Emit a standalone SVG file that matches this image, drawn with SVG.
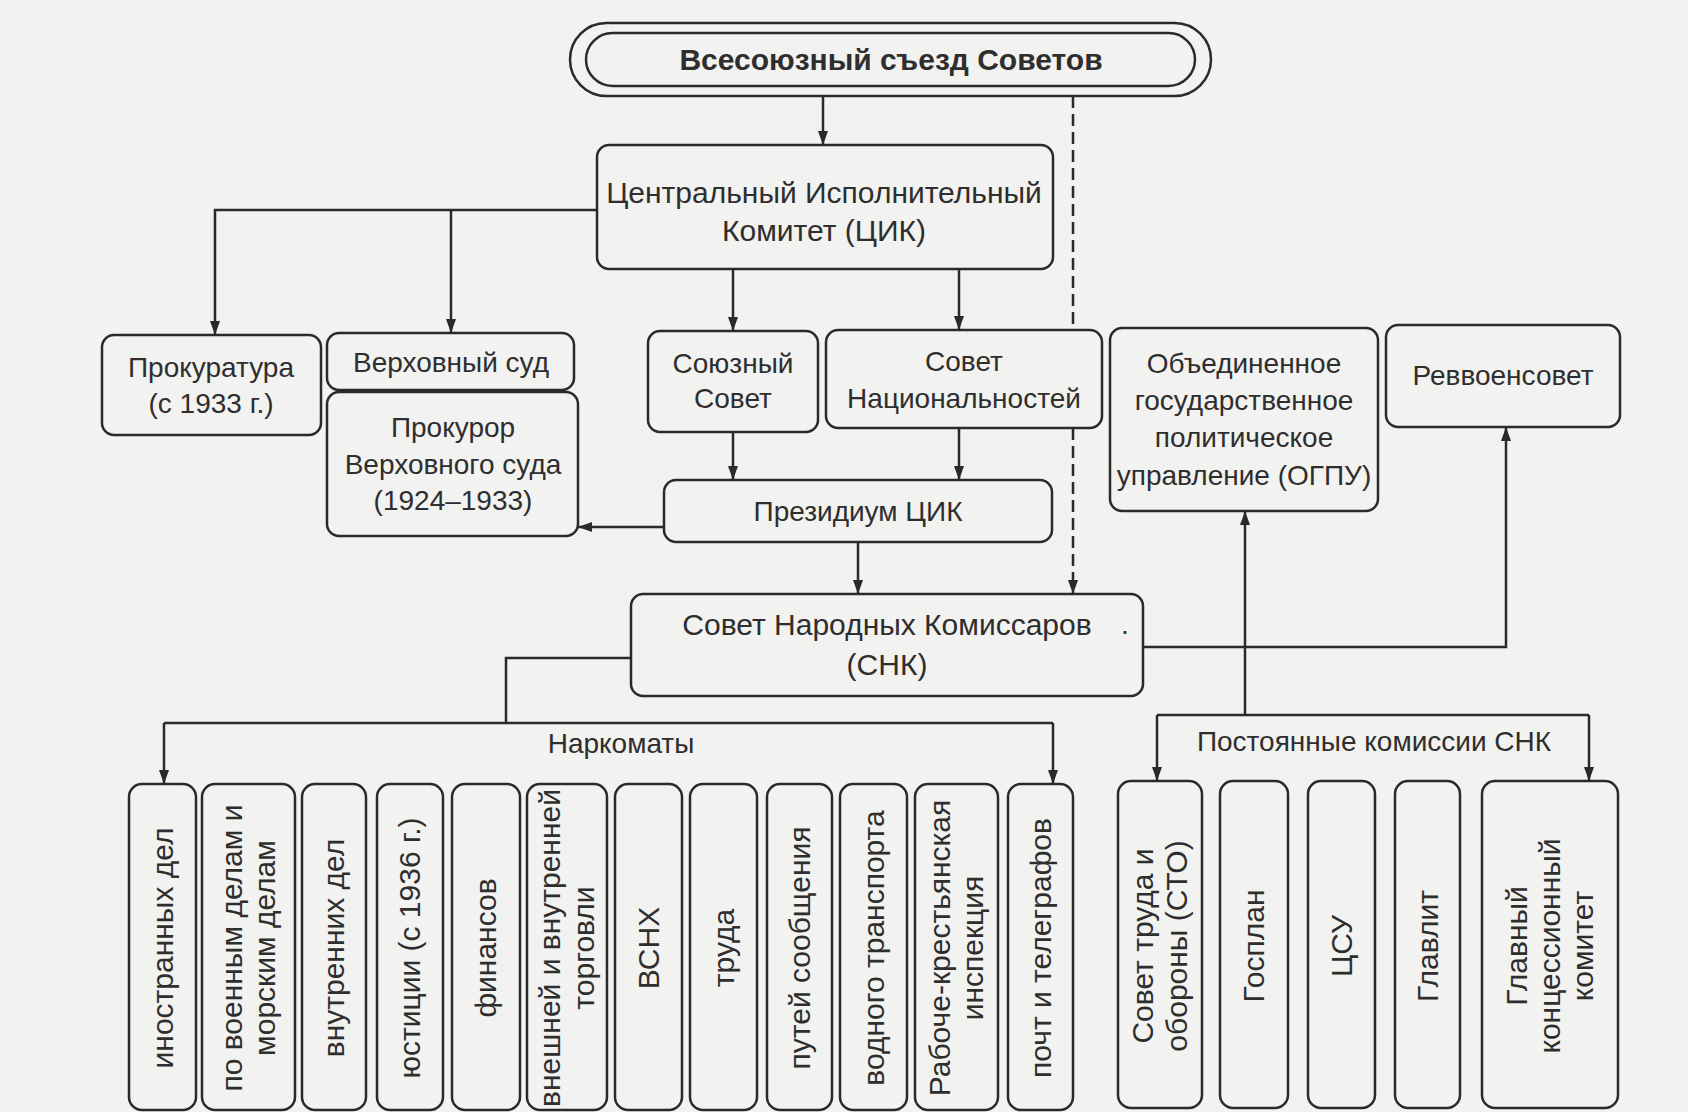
<svg xmlns="http://www.w3.org/2000/svg" width="1688" height="1112" viewBox="0 0 1688 1112">
<style>
.bg{fill:#f2f2f0}
.box{fill:none;stroke:#2a2a2a;stroke-width:2.5}
.t{font-family:"Liberation Sans",Arial,sans-serif;font-size:28px;fill:#2e2e2e;text-anchor:middle}
.t30{font-size:30px}
.b{font-weight:bold;font-size:30px}
.c{fill:none;stroke:#2a2a2a;stroke-width:2.5}
.a{marker-end:url(#ah)}
.d{stroke-dasharray:12 6}
</style>
<defs>
<marker id="ah" viewBox="0 0 14 10" markerWidth="14" markerHeight="10" refX="14" refY="5" orient="auto" markerUnits="userSpaceOnUse">
<path d="M0,0 L14,5 L0,10 z" fill="#2a2a2a"/>
</marker>
</defs>
<rect class="bg" x="0" y="0" width="1688" height="1112"/>

<g id="connectors">
<path class="c a" d="M823,96 V145"/>
<path class="c d" d="M1073,96 V330"/>
<path class="c a d" d="M1073,428 V594"/>
<path class="c a" d="M597,210 H215 V335"/>
<path class="c a" d="M451,210 V333"/>
<path class="c a" d="M733,269 V331"/>
<path class="c a" d="M959,269 V330"/>
<path class="c a" d="M733,432 V480"/>
<path class="c a" d="M959,428 V480"/>
<path class="c a" d="M664,527 H578"/>
<path class="c a" d="M858,542 V594"/>
<path class="c a" d="M1143,647 H1506 V427"/>
<path class="c" d="M631,658 H506 V723"/>
<path class="c" d="M164,723 H1053"/>
<path class="c a" d="M164,723 V784"/>
<path class="c a" d="M1053,723 V784"/>
<path class="c a" d="M1245,715 V511"/>
<path class="c" d="M1157,715 H1589"/>
<path class="c a" d="M1157,715 V781"/>
<path class="c a" d="M1589,715 V781"/>
<text class="t" x="621" y="753">Наркоматы</text>
<text class="t" x="1374" y="751">Постоянные комиссии СНК</text>
</g>

<g id="congress">
<rect class="box" x="570" y="23" width="641" height="73" rx="36.5"/>
<rect class="box" x="586" y="33" width="609" height="53" rx="26.5"/>
<text class="t b" x="891" y="70">Всесоюзный съезд Советов</text>
</g>

<g id="cik">
<rect class="box" x="597" y="145" width="456" height="124" rx="12"/>
<text class="t t30" x="824" y="203">Центральный Исполнительный</text>
<text class="t t30" x="824" y="241">Комитет (ЦИК)</text>
</g>

<g id="prokuratura">
<rect class="box" x="102" y="335" width="219" height="100" rx="12"/>
<text class="t" x="211" y="377">Прокуратура</text>
<text class="t" x="211" y="413">(с 1933 г.)</text>
</g>

<g id="verkhsud">
<rect class="box" x="327" y="333" width="247" height="57" rx="12"/>
<text class="t" x="451" y="372">Верховный суд</text>
</g>

<g id="prokuror">
<rect class="box" x="327" y="392" width="251" height="144" rx="12"/>
<text class="t" x="453" y="437">Прокурор</text>
<text class="t" x="453" y="474">Верховного суда</text>
<text class="t" x="453" y="510">(1924–1933)</text>
</g>

<g id="soyuzny">
<rect class="box" x="648" y="331" width="170" height="101" rx="12"/>
<text class="t" x="733" y="373">Союзный</text>
<text class="t" x="733" y="408">Совет</text>
</g>

<g id="sovetnats">
<rect class="box" x="826" y="330" width="276" height="98" rx="12"/>
<text class="t" x="964" y="371">Совет</text>
<text class="t" x="964" y="408">Национальностей</text>
</g>

<g id="presidium">
<rect class="box" x="664" y="480" width="388" height="62" rx="12"/>
<text class="t" x="858" y="521">Президиум ЦИК</text>
</g>

<g id="snk">
<rect class="box" x="631" y="594" width="512" height="102" rx="12"/>
<text class="t t30" x="887" y="635">Совет Народных Комиссаров</text>
<text class="t t30" x="887" y="675">(СНК)</text>
<text class="t" x="1125" y="634">.</text>
</g>

<g id="ogpu">
<rect class="box" x="1110" y="328" width="268" height="183" rx="12"/>
<text class="t" x="1244" y="373">Объединенное</text>
<text class="t" x="1244" y="410">государственное</text>
<text class="t" x="1244" y="447">политическое</text>
<text class="t" x="1244" y="485">управление (ОГПУ)</text>
</g>

<g id="revvoensovet">
<rect class="box" x="1386" y="325" width="234" height="102" rx="12"/>
<text class="t" x="1503" y="385">Реввоенсовет</text>
</g>

<g id="nk-inostr">
<rect class="box" x="129" y="784" width="67" height="326" rx="13"/>
<text class="t t30" transform="translate(163,948) rotate(-90)" y="10">иностранных дел</text>
</g>
<g id="nk-voen">
<rect class="box" x="202" y="784" width="93" height="326" rx="13"/>
<text class="t t30" transform="translate(232,948) rotate(-90)" y="10">по военным делам и</text>
<text class="t t30" transform="translate(265,948) rotate(-90)" y="10">морским делам</text>
</g>
<g id="nk-vnutr">
<rect class="box" x="302" y="784" width="64" height="326" rx="13"/>
<text class="t t30" transform="translate(334,948) rotate(-90)" y="10">внутренних дел</text>
</g>
<g id="nk-just">
<rect class="box" x="377" y="784" width="66" height="326" rx="13"/>
<text class="t t30" transform="translate(410,948) rotate(-90)" y="10">юстиции (с 1936 г.)</text>
</g>
<g id="nk-fin">
<rect class="box" x="452" y="784" width="68" height="326" rx="13"/>
<text class="t t30" transform="translate(486,948) rotate(-90)" y="10">финансов</text>
</g>
<g id="nk-torg">
<rect class="box" x="527" y="784" width="80" height="326" rx="13"/>
<text class="t t30" transform="translate(550,948) rotate(-90)" y="10">внешней и внутренней</text>
<text class="t t30" transform="translate(584,948) rotate(-90)" y="10">торговли</text>
</g>
<g id="nk-vsnh">
<rect class="box" x="615" y="784" width="67" height="326" rx="13"/>
<text class="t t30" transform="translate(649,948) rotate(-90)" y="10">ВСНХ</text>
</g>
<g id="nk-trud">
<rect class="box" x="690" y="784" width="67" height="326" rx="13"/>
<text class="t t30" transform="translate(724,948) rotate(-90)" y="10">труда</text>
</g>
<g id="nk-put">
<rect class="box" x="767" y="784" width="65" height="326" rx="13"/>
<text class="t t30" transform="translate(800,948) rotate(-90)" y="10">путей сообщения</text>
</g>
<g id="nk-vodn">
<rect class="box" x="840" y="784" width="67" height="326" rx="13"/>
<text class="t t30" transform="translate(874,948) rotate(-90)" y="10">водного транспорта</text>
</g>
<g id="nk-rki">
<rect class="box" x="915" y="784" width="83" height="326" rx="13"/>
<text class="t t30" transform="translate(940,948) rotate(-90)" y="10">Рабоче-крестьянская</text>
<text class="t t30" transform="translate(973,948) rotate(-90)" y="10">инспекция</text>
</g>
<g id="nk-pocht">
<rect class="box" x="1008" y="784" width="65" height="326" rx="13"/>
<text class="t t30" transform="translate(1041,948) rotate(-90)" y="10">почт и телеграфов</text>
</g>

<g id="k-sto">
<rect class="box" x="1118" y="781" width="84" height="327" rx="13"/>
<text class="t t30" transform="translate(1143,946) rotate(-90)" y="10">Совет труда и</text>
<text class="t t30" transform="translate(1177,946) rotate(-90)" y="10">обороны (СТО)</text>
</g>
<g id="k-gosplan">
<rect class="box" x="1220" y="781" width="68" height="327" rx="13"/>
<text class="t t30" transform="translate(1254,946) rotate(-90)" y="10">Госплан</text>
</g>
<g id="k-csu">
<rect class="box" x="1308" y="781" width="67" height="327" rx="13"/>
<text class="t t30" transform="translate(1342,946) rotate(-90)" y="10">ЦСУ</text>
</g>
<g id="k-glavlit">
<rect class="box" x="1395" y="781" width="65" height="327" rx="13"/>
<text class="t t30" transform="translate(1428,946) rotate(-90)" y="10">Главлит</text>
</g>
<g id="k-konc">
<rect class="box" x="1482" y="781" width="136" height="327" rx="13"/>
<text class="t t30" transform="translate(1517,946) rotate(-90)" y="10">Главный</text>
<text class="t t30" transform="translate(1550,946) rotate(-90)" y="10">концессионный</text>
<text class="t t30" transform="translate(1583,946) rotate(-90)" y="10">комитет</text>
</g>
</svg>
